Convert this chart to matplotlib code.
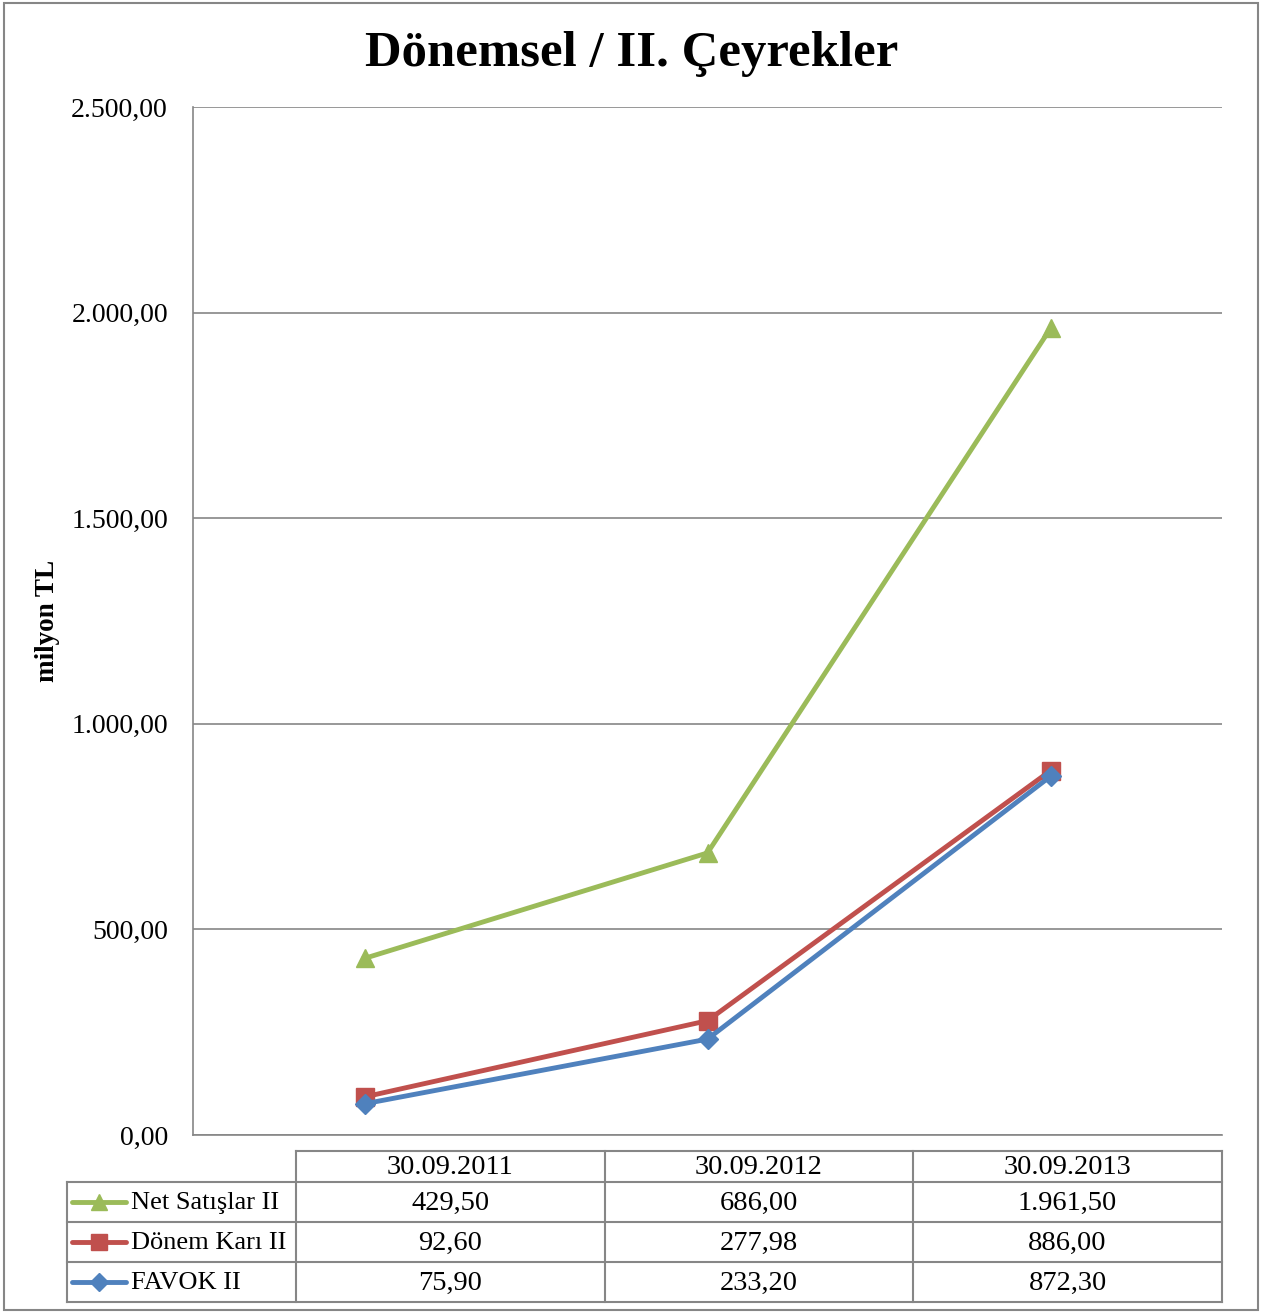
import matplotlib
matplotlib.use("Agg")
from matplotlib import pyplot as plt
from matplotlib.lines import Line2D
from matplotlib.patches import Rectangle

# chart data
DATES = ['30.09.2011', '30.09.2012', '30.09.2013']
SERIES = ['Net Satışlar II', 'Dönem Karı II', 'FAVOK II']
NET_SATISLAR = [429.50, 686.00, 1961.50]
DONEM_KARI = [92.60, 277.98, 886.00]
FAVOK = [75.90, 233.20, 872.30]
Y_TICKS = [0, 500, 1000, 1500, 2000, 2500]

COLORS = ['#9BBB59', '#C0504D', '#4F81BD']
MARKERS = ['^', 's', 'D']
GRID = '#868686'
FONT = 'Liberation Serif'

plt.rcParams['font.family'] = [FONT, 'DejaVu Serif']


def tr_fmt(v):
    # turkish number style: 1.961,50
    s = '{:,.2f}'.format(v)
    return s.replace(',', '#').replace('.', ',').replace('#', '.')


W, H = 1262, 1314
fig = plt.figure(figsize=(W / 100, H / 100), dpi=100)


def fx(px):
    return px / W


def fy(py):
    return 1 - py / H


# outer chart frame
fig.patches.append(Rectangle((fx(4), fy(1310)), fx(1254), fy(3) - fy(1310),
                             transform=fig.transFigure, fill=False, ec=GRID, lw=1.5))

ax = fig.add_axes([fx(193), fy(1135), fx(1222) - fx(193), fy(107) - fy(1135)])

x = [0, 1, 2]
for vals, c, m in zip([NET_SATISLAR, DONEM_KARI, FAVOK], COLORS, MARKERS):
    ax.plot(x, vals, color=c, lw=3.5, marker=m, ms=13 if m != 'D' else 10,
            markeredgecolor=c, zorder=3, clip_on=False)

ax.set_xlim(-0.5, 2.5)
ax.set_ylim(0, 2500)
ax.set_yticks(Y_TICKS)
ax.set_yticklabels([tr_fmt(v) for v in Y_TICKS], fontsize=20)
ax.set_xticks([])
ax.tick_params(axis='y', length=0, pad=18)
ax.yaxis.grid(True, color=GRID, lw=1.2)
ax.set_axisbelow(True)
for s in ['top', 'right']:
    ax.spines[s].set_visible(False)
for s in ['left', 'bottom']:
    ax.spines[s].set_color(GRID)
    ax.spines[s].set_linewidth(1.2)

fig.text(fx(48), fy(621), 'milyon TL', rotation=90, ha='center', va='center',
         fontsize=19.5, fontweight='bold')
fig.text(fx(632), fy(54), 'Dönemsel / II. Çeyrekler', ha='center', va='center',
         fontsize=36.5, fontweight='bold')

# data table under the chart
col_edges = [67, 296, 605, 913, 1222]
row_edges = [1151, 1182, 1222, 1262, 1302]


def hline(y, x0, x1):
    fig.add_artist(Line2D([fx(x0), fx(x1)], [fy(y), fy(y)], color=GRID, lw=1.5))


def vline(xp, y0, y1):
    fig.add_artist(Line2D([fx(xp), fx(xp)], [fy(y0), fy(y1)], color=GRID, lw=1.5))


hline(row_edges[0], col_edges[1], col_edges[-1])
for r in row_edges[1:]:
    hline(r, col_edges[0], col_edges[-1])
vline(col_edges[0], row_edges[1], row_edges[-1])
for c in col_edges[1:]:
    vline(c, row_edges[0], row_edges[-1])

for i, d in enumerate(DATES):
    cx = (col_edges[i + 1] + col_edges[i + 2]) / 2
    cy = (row_edges[0] + row_edges[1]) / 2
    fig.text(fx(cx), fy(cy + 1), d, ha='center', va='center', fontsize=20.5)

for j, (name, vals) in enumerate(zip(SERIES, [NET_SATISLAR, DONEM_KARI, FAVOK])):
    cy = (row_edges[j + 1] + row_edges[j + 2]) / 2
    fig.add_artist(Line2D([fx(72), fx(126)], [fy(cy), fy(cy)], color=COLORS[j], lw=3.5,
                          solid_capstyle='round'))
    fig.add_artist(Line2D([fx(99)], [fy(cy)], color=COLORS[j], marker=MARKERS[j],
                          ms=12 if MARKERS[j] != 'D' else 9, lw=0))
    fig.text(fx(131), fy(cy + 1), name, ha='left', va='center', fontsize=19)
    for i, v in enumerate(vals):
        cx = (col_edges[i + 1] + col_edges[i + 2]) / 2
        fig.text(fx(cx), fy(cy + 1), tr_fmt(v), ha='center', va='center', fontsize=20.5)

fig.savefig('out.png', dpi=100)
